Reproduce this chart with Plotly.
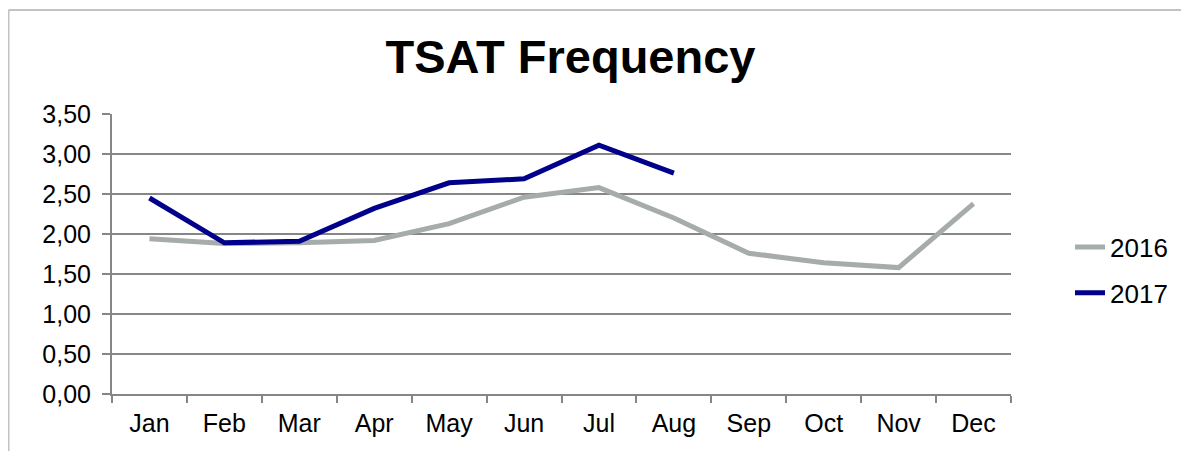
import plotly.graph_objects as go

months = ["Jan", "Feb", "Mar", "Apr", "May", "Jun", "Jul", "Aug", "Sep", "Oct", "Nov", "Dec"]
vals_2016 = [1.94, 1.88, 1.89, 1.92, 2.13, 2.46, 2.58, 2.20, 1.76, 1.64, 1.58, 2.38]
vals_2017 = [2.45, 1.89, 1.91, 2.32, 2.64, 2.69, 3.11, 2.76]
y_ticks = [0, 0.5, 1, 1.5, 2, 2.5, 3, 3.5]

# the page body adds an 8px margin, so the figure is sized/offset for it
W, H = 1181, 443
L, R, T, B = 104, 178, 106, 57
pw, ph = W - L - R, H - T - B

fig = go.Figure()
fig.add_trace(go.Scatter(x=months, y=vals_2016, mode="lines", name="2016",
                         line=dict(color="#A6ABAB", width=5), legendgroup="a"))
fig.add_trace(go.Scatter(x=months[:len(vals_2017)], y=vals_2017, mode="lines", name="2017",
                         line=dict(color="#00008B", width=5), legendgroup="b"))

font_family = "Liberation Sans, Arial, sans-serif"
fig.update_layout(
    width=W, height=H,
    margin=dict(l=L, r=R, t=T, b=B),
    paper_bgcolor="white", plot_bgcolor="white",
    separators=", ",
    font=dict(family=font_family, size=25, color="black"),
    title=dict(text="<b>TSAT Frequency</b>", x=562.5 / W, xanchor="center",
               y=1 - 49 / H, yanchor="middle", yref="container",
               font=dict(family=font_family, size=47, color="black")),
    legend=dict(x=(1062 - L) / pw, xanchor="left", y=(386 - 262) / ph, yanchor="middle",
                font=dict(size=26), tracegroupgap=9, bgcolor="rgba(0,0,0,0)"),
    showlegend=True,
)
fig.update_xaxes(type="category", categoryorder="array", categoryarray=months,
                 range=[-0.5, len(months) - 0.5], tickson="boundaries",
                 ticks="outside", ticklen=7, tickcolor="#868686", tickwidth=2,
                 showline=True, linecolor="#868686", linewidth=2, showgrid=False,
                 zeroline=False, fixedrange=True, ticklabelstandoff=6)
fig.update_yaxes(range=[0, 3.5], tickvals=y_ticks, tickformat=".2f",
                 ticks="outside", ticklen=8, tickcolor="#868686", tickwidth=2,
                 showline=True, linecolor="#868686", linewidth=2,
                 showgrid=True, gridcolor="#868686", gridwidth=2, zeroline=False,
                 ticklabelstandoff=6)

# outer frame (left and top border)
x0 = (0.5 - L) / pw
y0 = (H - B - 2) / ph
fig.add_shape(type="line", xref="paper", yref="paper", x0=x0, x1=x0, y0=y0, y1=-0.3,
              line=dict(color="#BFC3C3", width=2))
fig.add_shape(type="line", xref="paper", yref="paper", x0=x0, x1=1.3, y0=y0, y1=y0,
              line=dict(color="#BFC3C3", width=2))

fig.write_html("out.html")
